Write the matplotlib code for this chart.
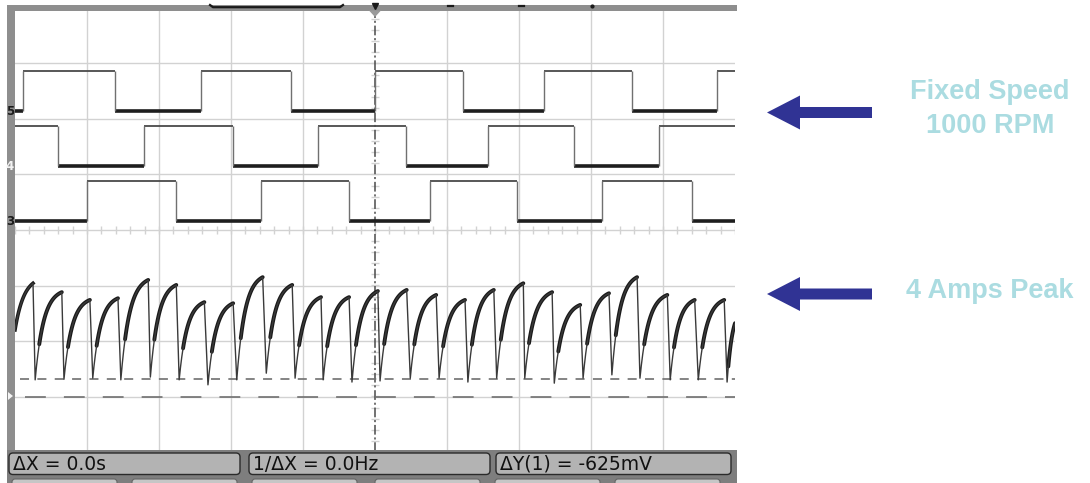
import numpy as np
import matplotlib
matplotlib.use('Agg')
import matplotlib.pyplot as plt
from matplotlib.patches import Rectangle, Polygon, FancyBboxPatch
from matplotlib.transforms import blended_transform_factory

plt.rcParams['lines.scale_dashes'] = False

# ---- scope screen is 10 x 8 divisions, values below are in divisions ----
# hall sensor logic channels: edge times and low level
ch_names = ['5', '4', '3']
ch_edges = [
    [0.11, 1.39, 2.58, 3.83, 5.0, 6.22, 7.35, 8.57, 9.75],
    [0.60, 1.79, 3.03, 4.21, 5.43, 6.57, 7.76, 8.94],
    [1.00, 2.24, 3.42, 4.64, 5.76, 6.97, 8.15, 9.40],
]
ch_start_high = [False, True, False]
ch_low = [2.14, 1.15, 0.16]
logic_swing = 0.73

# phase current trace: peaks then the following trough of each cycle
peak_t = [0.25, 0.65, 1.04, 1.43, 1.85, 2.24, 2.63, 3.03, 3.44, 3.85, 4.25, 4.64, 5.04,
          5.44, 5.85, 6.25, 6.65, 7.06, 7.46, 7.85, 8.25, 8.64, 9.06, 9.44, 9.85]
peak_y = [-0.96, -1.12, -1.26, -1.23, -0.90, -0.99, -1.30, -1.32, -0.85, -0.99, -1.21, -1.21, -1.10,
          -1.08, -1.17, -1.26, -1.08, -0.96, -1.12, -1.35, -1.14, -0.85, -1.17, -1.26, -1.26]
trough_t = [0.28, 0.68, 1.08, 1.47, 1.88, 2.28, 2.68, 3.08, 3.49, 3.89, 4.28, 4.68, 5.07,
            5.49, 5.89, 6.29, 6.69, 7.08, 7.49, 7.89, 8.29, 8.68, 9.10, 9.49, 9.89]
trough_y = [-2.70, -2.69, -2.67, -2.70, -2.65, -2.70, -2.79, -2.70, -2.58, -2.67, -2.70, -2.74, -2.72,
            -2.67, -2.67, -2.74, -2.67, -2.67, -2.76, -2.67, -2.61, -2.67, -2.70, -2.70, -2.74]
trace_start = (0.0, -1.80)
trace_end = (10.0, -1.68)
cursor_level = -2.685
ground_level = -3.0

softkeys = ['\u0394X = 0.0s', '1/\u0394X = 0.0Hz', '\u0394Y(1) = -625mV']


def rise(t0, y0, t1, y1, k=3.2, n=40):
    s = np.linspace(0, 1, n)
    f = (1 - np.exp(-k * s)) / (1 - np.exp(-k))
    return t0 + (t1 - t0) * s, y0 + (y1 - y0) * f


fig = plt.figure(figsize=(10.9, 4.83), dpi=100)
W, H = 1090, 483

# scope screen axes
ax = fig.add_axes([15 / W, 1 - 452 / H, 720 / W, 444 / H])
ax.set_xlim(0, 10)
ax.set_ylim(-4, 4)
ax.axis('off')

grid_c = '#d2d2d2'
for gx in range(1, 10):
    if gx != 5:
        ax.axvline(gx, color=grid_c, lw=1.0, zorder=1)
for gy in range(-3, 4):
    ax.axhline(gy, color=grid_c, lw=1.0, zorder=1)
# minor ticks along centre lines
minor = np.arange(0, 10.01, 0.2)
ax.vlines(minor, -0.065, 0.065, color=grid_c, lw=1.0, zorder=1)
minor_y = np.arange(-4, 4.01, 0.2)
ax.hlines(minor_y, 4.945, 5.055, color=grid_c, lw=1.0, zorder=1)
ax.axvline(5, color='#4a4a4a', lw=1.1, dashes=(7, 2, 1.5, 2), zorder=2)

# logic channels
for name, edges, high0, low in zip(ch_names, ch_edges, ch_start_high, ch_low):
    times = [0.0] + edges + [10.0]
    state = high0
    for a, b in zip(times[:-1], times[1:]):
        if state:
            ax.plot([a, b], [low + logic_swing] * 2, color='#4a4a4a', lw=1.3, zorder=3,
                    solid_capstyle='butt')
        else:
            ax.plot([a, b], [low] * 2, color='#1e1e1e', lw=2.6, zorder=3,
                    solid_capstyle='butt')
        state = not state
    ax.vlines(edges, low, low + logic_swing, color='#707070', lw=1.0, zorder=3)

# cursor and ground reference lines
ax.plot([0.07, 10], [cursor_level] * 2, color='#707070', lw=1.2, dashes=(6.5, 6), zorder=2)
ax.plot([0.14, 10], [ground_level] * 2, color='#707070', lw=1.2, dashes=(15, 13), zorder=2)

# current trace
thin_t, thin_y = [], []
st, sy = rise(trace_start[0], trace_start[1], peak_t[0], peak_y[0], k=2.0)
thin_t += list(st)
thin_y += list(sy)
ax.plot(st, sy, color='#1a1a1a', lw=2.6, zorder=4)
for i in range(len(peak_t)):
    thin_t += [peak_t[i], trough_t[i]]
    thin_y += [peak_y[i], trough_y[i]]
    if i + 1 < len(peak_t):
        rt, ry = rise(trough_t[i], trough_y[i], peak_t[i + 1], peak_y[i + 1])
    else:
        rt, ry = rise(trough_t[i], trough_y[i], trace_end[0], trace_end[1], k=1.5)
    thin_t += list(rt)
    thin_y += list(ry)
    m = len(rt) // 6
    ax.plot(rt[m:], ry[m:], color='#1a1a1a', lw=2.8, zorder=4, solid_capstyle='round')
ax.plot(thin_t, thin_y, color='#3a3a3a', lw=1.0, zorder=4)

# ---- instrument frame, soft keys and annotations (pixel overlay) ----
ov = fig.add_axes([0, 0, 1, 1], zorder=5)
ov.set_xlim(0, W)
ov.set_ylim(H, 0)
ov.axis('off')
ov.patch.set_alpha(0)

frame_c = '#8e8e8e'
ov.add_patch(Rectangle((7, 5), 730, 5.5, fc=frame_c, ec='none'))
ov.add_patch(Rectangle((7, 5), 8, 447, fc=frame_c, ec='none'))
ov.add_patch(Rectangle((7, 450), 730, 33, fc='#7e7e7e', ec='none'))
# memory bar bracket and markers on top bar
ov.plot([210, 213, 340, 343], [5, 7.2, 7.2, 5], color='#1a1a1a', lw=1.6)
ov.plot([448, 453], [6, 6], color='#1a1a1a', lw=1.6)
ov.plot([519, 524], [6, 6], color='#1a1a1a', lw=1.6)
ov.plot([592], [6], marker='o', ms=2, color='#1a1a1a')
ov.plot([375], [6], marker='v', ms=4, color='#1a1a1a')
ov.add_patch(Polygon([(369, 10.5), (381, 10.5), (375, 17)], fc='#9a9a9a', ec='none'))
# ground marker for channel 1
ov.add_patch(Polygon([(8, 392), (8, 400), (13, 396)], fc='#f4f4f4', ec='none'))

# channel numbers on the left frame, at each channel's low level
lab_tr = blended_transform_factory(ov.transData, ax.transData)
for name, low in zip(ch_names, ch_low):
    ov.text(10, low, name, transform=lab_tr, ha='center', va='center', fontsize=8.5,
            fontweight='bold', color='#f2f2f2' if name == '4' else '#1a1a1a')

keys_x = [(9, 240), (249, 490), (496, 731)]
for (x0, x1), label in zip(keys_x, softkeys):
    ov.add_patch(FancyBboxPatch((x0, 453), x1 - x0, 21.5,
                                boxstyle='round,pad=0,rounding_size=4',
                                fc='#b3b3b3', ec='#2a2a2a', lw=1.0))
    ov.text(x0 + 4, 464.5, label, ha='left', va='center', fontsize=13.5, color='#111111')
for x0 in [12, 132, 252, 375, 495, 615]:
    ov.add_patch(FancyBboxPatch((x0, 479), 105, 10, boxstyle='round,pad=0,rounding_size=3',
                                fc='#c6c6c6', ec='#666666', lw=0.8))

arrow_c = '#303394'
for yc in [112.5, 294]:
    ov.add_patch(Polygon([(767, yc), (800, yc - 17), (800, yc - 5.5), (872, yc - 5.5),
                          (872, yc + 5.5), (800, yc + 5.5), (800, yc + 17)],
                         fc=arrow_c, ec='none'))

text_c = '#abdce1'
ov.text(990, 92, 'Fixed Speed', ha='center', va='center', fontsize=19.5, fontweight='bold',
        color=text_c, family='Liberation Sans')
ov.text(990, 126, '1000 RPM', ha='center', va='center', fontsize=19.5, fontweight='bold',
        color=text_c, family='Liberation Sans')
ov.text(990, 291, '4 Amps Peak', ha='center', va='center', fontsize=19.5, fontweight='bold',
        color=text_c, family='Liberation Sans')

fig.savefig('out.png', dpi=100)
